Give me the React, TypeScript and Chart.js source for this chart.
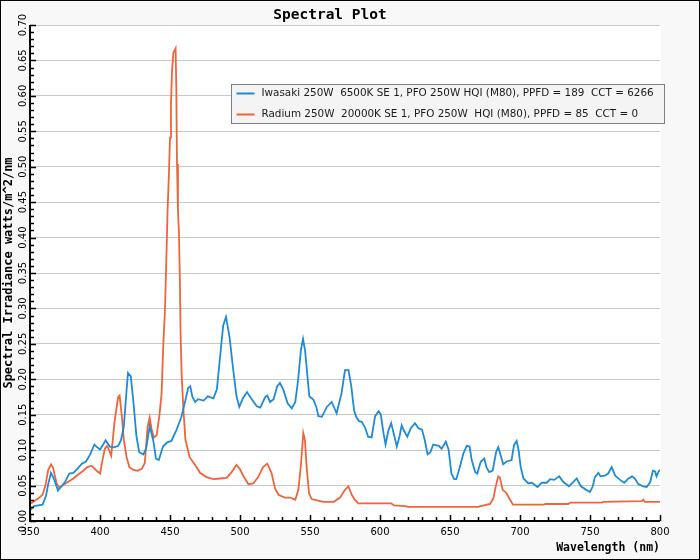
import { useEffect, useRef } from "react";
import { Chart, registerables } from "chart.js";

Chart.register(...registerables);

// Iwasaki 250W 6500K lamp spectrum (nm, watts/m^2/nm)
const iwasakiNm = [
  350, 353, 359, 361.5, 363, 365, 367, 370, 372, 375, 378, 381, 384, 387, 390, 393, 396, 398, 400, 402,
  404, 407, 410, 413, 415, 417, 419, 420, 422, 424, 426, 428, 431, 433, 435.5, 438, 440, 442, 445, 448,
  451, 454.5, 458, 460.5, 463, 464.5, 466, 468, 470, 474, 477, 481, 483.5, 486, 488, 490, 492.5, 495, 497.5, 499.5,
  502, 505, 508, 512, 514.5, 518, 519.5, 521.5, 524, 526.5, 528.5, 531, 534, 537, 539.5, 541.5, 543.5, 545, 546.5, 548,
  549.5, 552.5, 554.5, 556, 558.5, 562, 565.5, 569, 572.5, 575, 577.5, 579.5, 581.5, 583, 585, 587, 589.5, 591.5, 594, 596.5,
  599, 600.5, 602.5, 604, 606, 608, 609.5, 612, 614, 615.5, 617, 619.5, 622, 625, 627.5, 630, 632, 634, 636, 638,
  642, 644, 647, 649, 651, 653, 654.5, 657, 659.5, 662, 664, 665.5, 668, 669.5, 672, 674.5, 676, 678, 680.5, 683,
  684.5, 686, 688, 690.5, 694, 695.7, 697.6, 699, 700.5, 702.5, 706, 708.5, 712.5, 715.5, 719, 721.5, 724.5, 728, 731, 735,
  738, 740.5, 743.5, 746.5, 750, 752, 753.5, 756, 757.5, 760.5, 763, 765.5, 768, 771.5, 774.5, 777.5, 780, 782, 784.5, 788,
  790.5, 793, 795, 796.5, 797.5, 799, 800,
];
const iwasakiVal = [
  0.015, 0.021, 0.023, 0.036, 0.052, 0.068, 0.06, 0.043, 0.048, 0.055, 0.067, 0.068, 0.074, 0.081, 0.084, 0.094, 0.108, 0.104, 0.101, 0.107,
  0.114, 0.105, 0.104, 0.106, 0.114, 0.133, 0.185, 0.209, 0.204, 0.165, 0.12, 0.097, 0.094, 0.103, 0.134, 0.114, 0.088, 0.086, 0.105, 0.111,
  0.113, 0.128, 0.146, 0.166, 0.188, 0.19, 0.175, 0.168, 0.172, 0.17, 0.176, 0.173, 0.186, 0.236, 0.276, 0.288, 0.26, 0.216, 0.176, 0.161,
  0.173, 0.182, 0.173, 0.162, 0.16, 0.175, 0.177, 0.168, 0.172, 0.19, 0.195, 0.185, 0.166, 0.159, 0.168, 0.199, 0.241, 0.257, 0.24, 0.208,
  0.176, 0.171, 0.161, 0.148, 0.147, 0.161, 0.168, 0.152, 0.18, 0.213, 0.213, 0.19, 0.156, 0.147, 0.141, 0.14, 0.131, 0.119, 0.118, 0.148,
  0.155, 0.151, 0.124, 0.108, 0.128, 0.138, 0.126, 0.105, 0.12, 0.135, 0.128, 0.119, 0.131, 0.138, 0.131, 0.129, 0.114, 0.094, 0.097, 0.108,
  0.106, 0.102, 0.112, 0.101, 0.067, 0.059, 0.059, 0.076, 0.095, 0.106, 0.105, 0.086, 0.069, 0.067, 0.084, 0.088, 0.076, 0.069, 0.071, 0.098,
  0.104, 0.094, 0.08, 0.084, 0.086, 0.107, 0.113, 0.1, 0.076, 0.06, 0.053, 0.054, 0.048, 0.054, 0.054, 0.059, 0.058, 0.063, 0.055, 0.049,
  0.055, 0.06, 0.049, 0.045, 0.041, 0.049, 0.062, 0.068, 0.063, 0.064, 0.067, 0.076, 0.064, 0.058, 0.054, 0.06, 0.063, 0.06, 0.052, 0.049,
  0.048, 0.055, 0.071, 0.07, 0.063, 0.07, 0.072,
];

// Radium 250W 20000K lamp spectrum
const radiumNm = [
  350, 353, 356, 359, 361, 363, 365, 366.5, 369, 371, 374, 377, 381, 384, 388, 391, 394, 397, 400, 402,
  403.5, 405, 406.5, 408, 410.5, 413, 414, 415.5, 417, 419, 421, 424, 427, 430, 432, 434, 435.5, 437, 438.5, 440.5,
  442.5, 444, 445.2, 446.4, 447.6, 448.3, 449.3, 450, 450.7, 451.4, 452.4, 453.3, 454, 454.5, 455, 455.7, 456.4, 457.1, 457.6, 458.3,
  459.5, 461, 464, 468, 471.5, 476, 481, 486, 490.5, 494, 497.5, 500, 502, 506, 509.5, 513, 516.5, 519.5, 522.5, 525,
  527.5, 532, 536, 539.5, 541.7, 543.6, 545.2, 546.4, 547.6, 549.3, 551.2, 555, 559.5, 567, 571.5, 575, 577.4, 579.8, 582, 584.5,
  600, 608, 610, 618, 620, 670, 672, 678.6, 681, 682.6, 684.5, 685.7, 687.6, 690, 692.9, 695, 700, 717, 718, 734.5,
  736, 758.5, 759.5, 787, 788, 789.3, 800,
];
const radiumVal = [
  0.024, 0.028, 0.032, 0.037, 0.05, 0.072, 0.08, 0.075, 0.053, 0.047, 0.051, 0.055, 0.06, 0.065, 0.071, 0.076, 0.078, 0.072, 0.067, 0.088,
  0.102, 0.106, 0.1, 0.092, 0.142, 0.175, 0.177, 0.15, 0.115, 0.09, 0.076, 0.072, 0.071, 0.074, 0.082, 0.133, 0.146, 0.128, 0.118, 0.121,
  0.15, 0.18, 0.248, 0.297, 0.386, 0.44, 0.494, 0.541, 0.588, 0.633, 0.661, 0.664, 0.667, 0.612, 0.504, 0.438, 0.407, 0.335, 0.26, 0.208,
  0.16, 0.115, 0.09, 0.079, 0.068, 0.062, 0.059, 0.06, 0.061, 0.069, 0.079, 0.073, 0.065, 0.052, 0.053, 0.062, 0.076, 0.081, 0.068, 0.046,
  0.037, 0.033, 0.033, 0.03, 0.044, 0.081, 0.124, 0.114, 0.076, 0.039, 0.031, 0.029, 0.027, 0.027, 0.033, 0.044, 0.049, 0.037, 0.03, 0.025,
  0.025, 0.025, 0.022, 0.021, 0.02, 0.02, 0.021, 0.024, 0.032, 0.048, 0.063, 0.061, 0.044, 0.04, 0.03, 0.023, 0.023, 0.023, 0.024, 0.024,
  0.026, 0.026, 0.027, 0.028, 0.03, 0.027, 0.027,
];

const seriesLabels = [
  "Iwasaki 250W  6500K SE 1, PFO 250W HQI (M80), PPFD = 189  CCT = 6266",
  "Radium 250W  20000K SE 1, PFO 250W  HQI (M80), PPFD = 85  CCT = 0",
];
const seriesColors = ["#1e8bd6", "#f0643c"];
const yTicks = [0, 0.05, 0.1, 0.15, 0.2, 0.25, 0.3, 0.35, 0.4, 0.45, 0.5, 0.55, 0.6, 0.65, 0.7];

const decor = {
  id: "decor",
  beforeDraw(chart: any) {
    const { ctx, chartArea: a, width, height } = chart;
    ctx.save();
    ctx.fillStyle = "#f8f8f8";
    ctx.fillRect(0, 0, width, height);
    ctx.fillStyle = "#ffffff";
    ctx.fillRect(a.left, a.top, a.right - a.left + 1, a.bottom - a.top);
    ctx.restore();
  },
  afterDraw(chart: any) {
    const { ctx, chartArea: a } = chart;
    const xs = chart.scales.x;
    const ys = chart.scales.y;
    ctx.save();

    // inward tick marks
    ctx.strokeStyle = "#000";
    ctx.lineWidth = 1.5;
    ctx.beginPath();
    for (let i = 0; i <= 70; i++) {
      const y = Math.round(ys.getPixelForValue(i / 100)) + 0.5;
      const len = i % 5 === 0 ? 6 : 4;
      ctx.moveTo(a.left, y);
      ctx.lineTo(a.left + len, y);
    }
    for (let nm = 350; nm <= 800; nm += 10) {
      const x = Math.round(xs.getPixelForValue(nm)) + 0.5;
      const len = nm % 50 === 0 ? 6 : 4;
      ctx.moveTo(x, a.bottom);
      ctx.lineTo(x, a.bottom - len);
    }
    ctx.stroke();

    // axis lines
    ctx.lineWidth = 2;
    ctx.beginPath();
    ctx.moveTo(a.left, a.top);
    ctx.lineTo(a.left, a.bottom);
    ctx.lineTo(a.right, a.bottom);
    ctx.stroke();

    // rotated y tick labels
    ctx.font = "10px 'DejaVu Sans'";
    ctx.fillStyle = "#000";
    ctx.textAlign = "center";
    ctx.textBaseline = "middle";
    yTicks.forEach((v) => {
      const y = ys.getPixelForValue(v);
      ctx.save();
      ctx.translate(a.left - 7, y);
      ctx.rotate(-Math.PI / 2);
      ctx.fillText(v.toFixed(2), 0, 0);
      ctx.restore();
    });

    // legend box
    const bx = 231.5, by = 84.5, bw = 433, bh = 39;
    ctx.fillStyle = "#f4f4f4";
    ctx.fillRect(bx, by, bw, bh);
    ctx.strokeStyle = "#808080";
    ctx.lineWidth = 1;
    ctx.strokeRect(bx, by, bw, bh);
    ctx.font = "10.4px 'DejaVu Sans'";
    ctx.textAlign = "left";
    seriesLabels.forEach((label, i) => {
      const ry = by + 9 + i * 21;
      ctx.strokeStyle = seriesColors[i];
      ctx.lineWidth = 2;
      ctx.beginPath();
      ctx.moveTo(bx + 5, ry);
      ctx.lineTo(bx + 23, ry);
      ctx.stroke();
      ctx.fillStyle = "#1a1a1a";
      ctx.fillText(label, bx + 30, ry);
    });

    // outer frame
    ctx.strokeStyle = "#000";
    ctx.lineWidth = 1;
    ctx.strokeRect(0.5, 0.5, chart.width - 1, chart.height - 1);
    ctx.restore();
  },
};

const SpectralPlot = () => {
  const ref = useRef<null | HTMLCanvasElement>(null);
  useEffect(() => {
    document.body.style.margin = "0";
    if (!ref.current) return;
    const ctx = ref.current.getContext("2d");
    if (!ctx) throw new Error("Canvas Error: Ctx not available");
    const chart = new Chart(ctx, {
      type: "line",
      data: {
        datasets: [
          {
            label: seriesLabels[0],
            data: iwasakiNm.map((x, i) => ({ x, y: iwasakiVal[i] })),
            borderColor: seriesColors[0],
            borderWidth: 1.8,
            pointRadius: 0,
            fill: false,
            tension: 0,
          },
          {
            label: seriesLabels[1],
            data: radiumNm.map((x, i) => ({ x, y: radiumVal[i] })),
            borderColor: seriesColors[1],
            borderWidth: 1.8,
            pointRadius: 0,
            fill: false,
            tension: 0,
          },
        ],
      },
      options: {
        responsive: false,
        animation: false,
        events: [],
        layout: { padding: { top: 0, right: 40, bottom: 0, left: 0 } },
        plugins: {
          legend: { display: false },
          tooltip: { enabled: false },
          title: {
            display: true,
            text: "Spectral Plot",
            color: "#000",
            font: { family: "'DejaVu Sans Mono'", size: 14.5, weight: "bold" },
            padding: { top: 6.5, bottom: 1.1 },
          },
        },
        scales: {
          x: {
            type: "linear",
            min: 350,
            max: 800,
            afterFit: (s: any) => {
              s.height = 39;
            },
            grid: { display: false, drawTicks: false },
            border: { display: false },
            ticks: {
              stepSize: 50,
              autoSkip: false,
              maxRotation: 0,
              padding: 5,
              color: "#000",
              font: { family: "'DejaVu Sans'", size: 10 },
            },
            title: {
              display: true,
              text: "Wavelength (nm)",
              align: "end",
              color: "#000",
              font: { family: "'DejaVu Sans Mono'", size: 11.5, weight: "bold" },
              padding: { top: 0, bottom: 5 },
            },
          },
          y: {
            type: "linear",
            min: 0,
            max: 0.7,
            afterFit: (s: any) => {
              s.width = 30;
            },
            grid: { color: "#c8c8c8", lineWidth: 1, drawTicks: false },
            border: { display: false },
            ticks: { stepSize: 0.05, display: false },
            title: {
              display: true,
              text: "Spectral Irradiance watts/m^2/nm",
              color: "#000",
              font: { family: "'DejaVu Sans Mono'", size: 12, weight: "bold" },
              padding: { top: 2, bottom: 0 },
            },
          },
        },
      },
      plugins: [decor],
    });
    return () => chart.destroy();
  }, []);

  return <canvas ref={ref} width={700} height={560} style={{ display: "block" }}></canvas>;
};

export default SpectralPlot;
